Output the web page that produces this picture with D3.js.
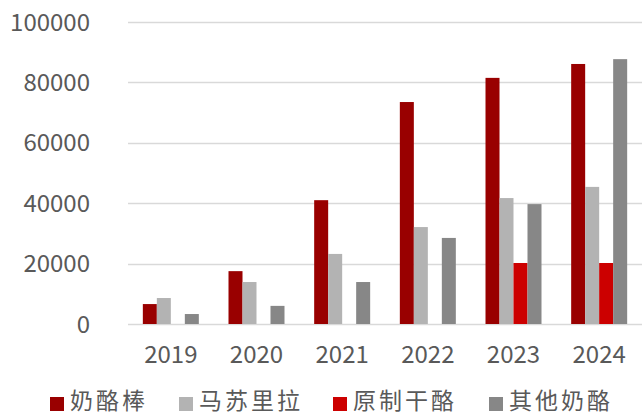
<!DOCTYPE html>
<html><head><meta charset="utf-8">
<script src="https://cdn.jsdelivr.net/npm/d3@7"></script>
<style>body{margin:0;background:#fff}svg{display:block}</style>
</head><body>
<svg id="c" width="642" height="418"></svg>
<script>
const categories = ["2019","2020","2021","2022","2023","2024"];
const seriesNames = ["奶酪棒","马苏里拉","原制干酪","其他奶酪"];
const cheeseStick = [6600, 17500, 41000, 73500, 81500, 86100];
const mozzarella  = [8600, 13900, 23200, 32100, 41700, 45400];
const naturalCheese = [0, 0, 0, 0, 20200, 20200];
const otherCheese = [3300, 6000, 13900, 28500, 39700, 87700];
const yTicks = [0, 20000, 40000, 60000, 80000, 100000];
const colors = ["#990000","#b3b3b3","#cc0000","#878787"];
const seriesValues = [cheeseStick, mozzarella, naturalCheese, otherCheese];

const svg = d3.select("#c");
const font = "'Noto Sans CJK SC', 'Noto Sans', sans-serif";
const plotLeft = 128, plotRight = 642, plotTop = 22, plotBottom = 324;

const x = d3.scaleBand().domain(categories).range([plotLeft, plotRight]).paddingInner(0).paddingOuter(0);
const xi = d3.scaleBand().domain(seriesNames).range([0, x.bandwidth()]).paddingOuter(1.06).paddingInner(0);
const y = d3.scaleLinear().domain([0, 100000]).range([plotBottom, plotTop]);

// gridlines
svg.append("g").selectAll("line").data(yTicks).join("line")
  .attr("x1", plotLeft).attr("x2", plotRight)
  .attr("y1", d => Math.round(y(d)) + 0.5).attr("y2", d => Math.round(y(d)) + 0.5)
  .attr("stroke", "#d9d9d9").attr("stroke-width", 1.5);

// y labels
svg.append("g").selectAll("text").data(yTicks).join("text")
  .attr("x", 90).attr("y", d => y(d)).attr("dy", "0.36em")
  .attr("text-anchor", "end").attr("font-family", font).attr("font-size", 24)
  .attr("fill", "#595959").text(d => d);

// bars
const groups = svg.append("g").selectAll("g").data(seriesNames).join("g")
  .attr("fill", (d, i) => colors[i]);
groups.selectAll("rect").data((s, si) => categories.map((c, ci) => ({s, c, v: seriesValues[si][ci]})))
  .join("rect")
  .attr("x", d => x(d.c) + xi(d.s))
  .attr("width", xi.bandwidth())
  .attr("y", d => y(d.v))
  .attr("height", d => y(0) - y(d.v));

// x labels
svg.append("g").selectAll("text").data(categories).join("text")
  .attr("x", d => x(d) + x.bandwidth() / 2).attr("y", 363)
  .attr("text-anchor", "middle").attr("font-family", font).attr("font-size", 24)
  .attr("fill", "#595959").text(d => d);

// legend
const legendX = [50, 179, 333, 489];
const lg = svg.append("g").selectAll("g").data(seriesNames).join("g")
  .attr("transform", (d, i) => `translate(${legendX[i]},0)`);
lg.append("rect").attr("x", 0).attr("y", 397).attr("width", 14).attr("height", 14)
  .attr("fill", (d, i) => colors[i]);
lg.append("text").attr("x", 20).attr("y", 401).attr("dy", "0.36em")
  .attr("font-family", font).attr("font-size", 23).attr("letter-spacing", 3).attr("fill", "#595959")
  .text(d => d);
</script>
</body></html>
